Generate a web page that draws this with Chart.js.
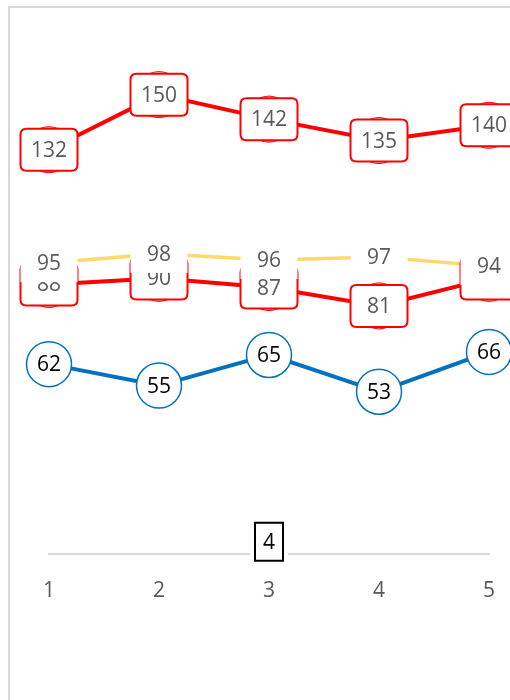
<!DOCTYPE html>
<html>
<head>
<meta charset="utf-8">
<script src="https://cdn.jsdelivr.net/npm/chart.js@4.4.1/dist/chart.umd.min.js"></script>
<style>
  html, body { margin: 0; padding: 0; background: #fff; overflow: hidden; }
  #wrap { width: 510px; height: 700px; position: relative; }
</style>
</head>
<body>
<div id="wrap"><canvas id="lineChart"></canvas></div>
<script>
// ── DATA ──
const categories = ['1', '2', '3', '4', '5'];
const redTop = [132, 150, 142, 135, 140];
const redMid = [88, 90, 87, 81, 90];
const yellow = [95, 98, 96, 97, 94];
const blue = [62, 55, 65, 53, 66];
const single = [null, null, 4, null, null];

const FONT = "'Open Sans', sans-serif";
const GREY_TEXT = '#595959';

// thin grey frame around the chart (only top and left edges are on screen)
const framePlugin = {
    id: 'frame',
    beforeDraw(chart) {
        const ctx = chart.ctx;
        ctx.save();
        ctx.fillStyle = '#d9d9d9';
        ctx.fillRect(8, 6, chart.width - 8, 2);
        ctx.fillRect(8, 6, 2, chart.height - 6);
        ctx.restore();
    }
};

function roundRect(ctx, x, y, w, h, r) {
    ctx.beginPath();
    ctx.moveTo(x + r, y);
    ctx.lineTo(x + w - r, y);
    ctx.quadraticCurveTo(x + w, y, x + w, y + r);
    ctx.lineTo(x + w, y + h - r);
    ctx.quadraticCurveTo(x + w, y + h, x + w - r, y + h);
    ctx.lineTo(x + r, y + h);
    ctx.quadraticCurveTo(x, y + h, x, y + h - r);
    ctx.lineTo(x, y + r);
    ctx.quadraticCurveTo(x, y, x + r, y);
    ctx.closePath();
}

// value labels drawn on top of every point
const labelPlugin = {
    id: 'valueLabels',
    afterDatasetsDraw(chart) {
        const ctx = chart.ctx;
        ctx.save();
        ctx.font = '21px ' + FONT;
        ctx.textAlign = 'center';
        ctx.textBaseline = 'middle';
        chart.data.datasets.forEach((ds, i) => {
            const meta = chart.getDatasetMeta(i);
            const style = ds.labelStyle;
            meta.data.forEach((pt, j) => {
                const v = ds.data[j];
                if (v === null || v === undefined) return;
                const x = pt.x, y = pt.y;
                if (style === 'round') {
                    roundRect(ctx, x - 28.5, y - 21, 57, 42, 6);
                    ctx.fillStyle = '#fff';
                    ctx.fill();
                    ctx.lineWidth = 2;
                    ctx.strokeStyle = '#ff0000';
                    ctx.stroke();
                    ctx.fillStyle = GREY_TEXT;
                } else if (style === 'plain') {
                    ctx.fillStyle = '#fff';
                    ctx.fillRect(x - 28.5, y - 19, 57, 38);
                    ctx.fillStyle = GREY_TEXT;
                } else if (style === 'circle') {
                    ctx.beginPath();
                    ctx.arc(x, y, 22.5, 0, Math.PI * 2);
                    ctx.fillStyle = '#fff';
                    ctx.fill();
                    ctx.lineWidth = 1.5;
                    ctx.strokeStyle = '#0070c0';
                    ctx.stroke();
                    ctx.fillStyle = '#000';
                } else if (style === 'square') {
                    ctx.fillStyle = '#fff';
                    ctx.fillRect(x - 19, y - 20, 38, 40);
                    ctx.lineWidth = 2;
                    ctx.strokeStyle = '#000';
                    ctx.strokeRect(x - 14, y - 19, 28, 38);
                    ctx.fillStyle = '#000';
                }
                ctx.fillText(String(v), x, y + 1);
            });
        });
        ctx.restore();
    }
};

const ctx = document.getElementById('lineChart').getContext('2d');
new Chart(ctx, {
    type: 'line',
    data: {
        labels: categories,
        datasets: [
            {
                data: redTop,
                borderColor: '#ff0000',
                borderWidth: 4,
                pointRadius: 23,
                pointBorderWidth: 1,
                pointBorderColor: '#ff0000',
                pointBackgroundColor: '#ffd6d6',
                labelStyle: 'round',
                clip: false
            },
            {
                data: redMid,
                borderColor: '#ff0000',
                borderWidth: 4,
                pointRadius: 23,
                pointBorderWidth: 1,
                pointBorderColor: '#ff0000',
                pointBackgroundColor: '#ffd6d6',
                labelStyle: 'round',
                clip: false
            },
            {
                data: yellow,
                borderColor: '#ffd966',
                borderWidth: 3.5,
                pointRadius: 0,
                labelStyle: 'plain',
                clip: false
            },
            {
                data: blue,
                borderColor: '#0070c0',
                borderWidth: 4,
                pointRadius: 0,
                labelStyle: 'circle',
                clip: false
            },
            {
                data: single,
                showLine: false,
                pointRadius: 0,
                labelStyle: 'square',
                clip: false
            }
        ]
    },
    options: {
        responsive: true,
        maintainAspectRatio: false,
        animation: false,
        events: [],
        // big markers would otherwise push the plot area in on the right
        layout: { autoPadding: false, padding: { top: 64, left: 49, right: 21, bottom: 0 } },
        plugins: { legend: { display: false }, tooltip: { enabled: false } },
        scales: {
            y: { display: false, min: 0, max: 160 },
            x: {
                // invisible tick marks give the label gap without widening the side padding
                grid: { display: false, drawTicks: true, tickLength: 24 },
                border: { display: true, color: '#d9d9d9', width: 2 },
                ticks: { color: GREY_TEXT, font: { family: FONT, size: 21 }, padding: 0, maxRotation: 0 },
                afterFit(scale) { scale.height = 146; }
            }
        }
    },
    plugins: [framePlugin, labelPlugin]
});
</script>
</body>
</html>
